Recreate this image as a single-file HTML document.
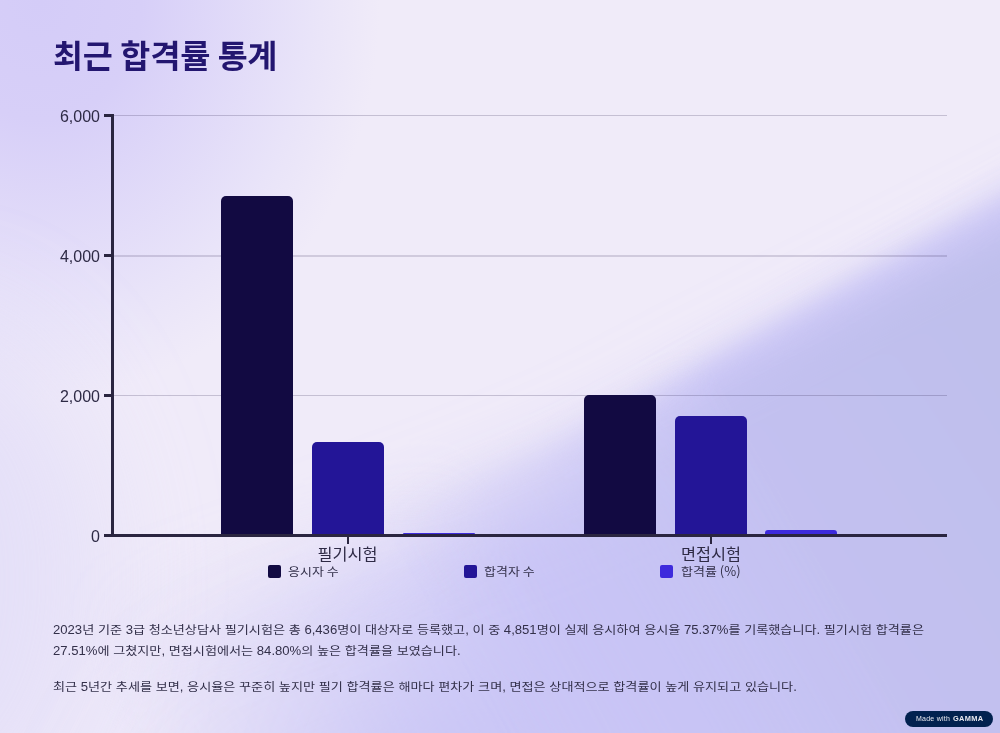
<!DOCTYPE html>
<html><head><meta charset="utf-8">
<style>
html,body{margin:0;padding:0;}
body{width:1000px;height:733px;overflow:hidden;position:relative;font-family:"Liberation Sans","Noto Sans CJK KR",sans-serif;
background:#e6e0f8;}
.bg{position:absolute;left:0;top:0;width:1000px;height:733px;}
.t{position:absolute;white-space:nowrap;}
.fx{position:absolute;left:0;top:0;width:1000px;height:733px;will-change:transform;}
h1{position:absolute;margin:0;left:53px;top:34px;font-size:32.6px;font-weight:680;color:#231670;font-family:"Noto Sans KR","Noto Sans CJK KR",sans-serif;line-height:1.2;}
.ylab{position:absolute;right:900px;font-size:16px;color:#2e2a45;line-height:16px;}
.bar{position:absolute;border-radius:5px 5px 0 0;}
.cat{position:absolute;transform:scaleY(0.95);font-size:16.3px;color:#2e2a45;font-family:"Noto Sans CJK KR",sans-serif;line-height:20px;}
.lg{position:absolute;font-size:13px;color:#33304a;font-family:"Noto Sans CJK KR",sans-serif;line-height:14px;}
.lb{position:absolute;width:13px;height:13px;border-radius:2px;}
.p{position:absolute;left:53px;font-size:13.125px;color:#33304a;line-height:21px;font-family:"Liberation Sans","Noto Sans CJK KR",sans-serif;white-space:nowrap;}
.k{display:inline-block;transform:translateY(0.5px) scaleY(0.86);}
.badge{position:absolute;left:905px;top:711px;width:88px;height:16px;border-radius:8px;background:#02214f;color:#e8e8f0;font-size:7px;line-height:16px;}
</style></head><body>
<svg class="bg" width="1000" height="733">
<defs>
<radialGradient id="g1" gradientUnits="userSpaceOnUse" cx="40" cy="0" r="400" gradientTransform="translate(40,0) scale(0.85,1) translate(-40,0)">
<stop offset="0" stop-color="#d4ccf8"/>
<stop offset="0.3" stop-color="#d7cff8"/>
<stop offset="0.8" stop-color="#e9e4f9"/>
<stop offset="1" stop-color="#f0ebf9"/>
</radialGradient>
<linearGradient id="mg" gradientUnits="userSpaceOnUse" x1="720" y1="380" x2="400" y2="560">
<stop offset="0" stop-color="#fff"/>
<stop offset="1" stop-color="#000"/>
</linearGradient>
<linearGradient id="bg2" gradientUnits="userSpaceOnUse" x1="1000" y1="380" x2="520" y2="700">
<stop offset="0" stop-color="#bfbfec"/>
<stop offset="1" stop-color="#c8c3f6"/>
</linearGradient>
<linearGradient id="mg2" gradientUnits="userSpaceOnUse" x1="500" y1="500" x2="100" y2="700">
<stop offset="0" stop-color="#fff"/>
<stop offset="1" stop-color="#000"/>
</linearGradient>
<mask id="m2" maskUnits="userSpaceOnUse" x="0" y="0" width="1000" height="733"><rect width="1000" height="733" fill="url(#mg2)"/></mask>
<filter id="bl5" x="-50%" y="-50%" width="200%" height="200%"><feGaussianBlur stdDeviation="45"/></filter>
<mask id="m1" maskUnits="userSpaceOnUse" x="0" y="0" width="1000" height="733"><rect width="1000" height="733" fill="url(#mg)"/></mask>
<filter id="bl1" x="-50%" y="-50%" width="200%" height="200%"><feGaussianBlur stdDeviation="22"/></filter>
<filter id="bl2" x="-50%" y="-50%" width="200%" height="200%"><feGaussianBlur stdDeviation="60"/></filter>
<filter id="bl4" x="-50%" y="-50%" width="200%" height="200%"><feGaussianBlur stdDeviation="16"/></filter>
<filter id="bl3" x="-50%" y="-50%" width="200%" height="200%"><feGaussianBlur stdDeviation="90"/></filter>
</defs>
<rect width="1000" height="733" fill="#f0ebf9"/>
<rect width="1000" height="733" fill="url(#g1)"/>
<ellipse cx="-80" cy="580" rx="180" ry="260" fill="#e0dbf8" opacity="0.7" filter="url(#bl2)"/>
<ellipse cx="600" cy="860" rx="420" ry="170" fill="#ccc8f6" opacity="0.8" filter="url(#bl3)"/>
<ellipse cx="780" cy="800" rx="420" ry="200" fill="#c6c3f4" opacity="0.85" filter="url(#bl2)"/>
<g mask="url(#m2)"><path d="M1120,200 L700,410 C620,455 540,490 400,540 L100,650 L100,850 L1120,850 Z" fill="#cac6f6" filter="url(#bl5)"/></g>
<g mask="url(#m1)"><path d="M1120,130 L700,368 C600,426 520,468 400,510 L150,600 L150,850 L1120,850 Z" fill="#cdc8f7" filter="url(#bl4)"/>
<path d="M1120,165 L700,390 C600,446 520,488 400,530 L150,620 L150,850 L1120,850 Z" fill="url(#bg2)" filter="url(#bl1)"/></g>
</svg>
<div class="fx">
<h1>최근 합격률 통계</h1>

<svg class="bg" width="1000" height="733">
<g stroke="rgba(40,30,70,0.21)" stroke-width="1">
<line x1="114" y1="115.5" x2="947" y2="115.5"/>
<line x1="114" y1="256" x2="947" y2="256" stroke-width="1.5"/>
<line x1="114" y1="395.5" x2="947" y2="395.5"/>
</g>
<g stroke="#2a2540" stroke-width="3">
<line x1="104" y1="115.5" x2="114" y2="115.5"/>
<line x1="104" y1="255.5" x2="114" y2="255.5"/>
<line x1="104" y1="395.5" x2="114" y2="395.5"/>
<line x1="104" y1="535.5" x2="947" y2="535.5"/>
<line x1="112.5" y1="114" x2="112.5" y2="537"/>
</g>
<g stroke="#2a2540" stroke-width="2">
<line x1="348" y1="537" x2="348" y2="544"/>
<line x1="711" y1="537" x2="711" y2="544"/>
</g>
</svg>
<div class="bar" style="left:221px;top:195.5px;width:72px;height:340px;background:#120a42"></div>
<div class="bar" style="left:312px;top:442px;width:72px;height:93.5px;background:#231597;"></div>
<div class="bar" style="left:403px;top:533px;width:72px;height:2.5px;background:#3d2adc;border-radius:1px 1px 0 0"></div>
<div class="bar" style="left:584px;top:395px;width:72px;height:140.5px;background:#120a42"></div>
<div class="bar" style="left:675px;top:416px;width:72px;height:119.5px;background:#231597"></div>
<div class="bar" style="left:765px;top:530px;width:72px;height:5.5px;background:#3d2adc;border-radius:3px 3px 0 0"></div>
<svg class="bg" width="1000" height="733"><line x1="104" y1="535.5" x2="947" y2="535.5" stroke="#2a2540" stroke-width="3"/></svg>

<div class="ylab" style="top:108.8px">6,000</div>
<div class="ylab" style="top:248.8px">4,000</div>
<div class="ylab" style="top:388.8px">2,000</div>
<div class="ylab" style="top:528.8px">0</div>

<div class="cat" style="left:317.6px;top:543px">필기시험</div>
<div class="cat" style="left:681px;top:543px">면접시험</div>

<div class="lb" style="left:268px;top:565px;background:#120a42"></div>
<div class="lg" style="left:288px;top:564px"><span class="k">응시자</span> <span class="k">수</span></div>
<div class="lb" style="left:464px;top:565px;background:#231597"></div>
<div class="lg" style="left:484px;top:564px"><span class="k">합격자</span> <span class="k">수</span></div>
<div class="lb" style="left:660px;top:565px;background:#3d2adc"></div>
<div class="lg" style="left:681px;top:564px"><span class="k">합격률</span> (%)</div>

<div class="p" style="top:619px">2023<span class="k">년</span> <span class="k">기준</span> 3<span class="k">급</span> <span class="k">청소년상담사</span> <span class="k">필기시험은</span> <span class="k">총</span> 6,436<span class="k">명이</span> <span class="k">대상자로</span> <span class="k">등록했고</span>, <span class="k">이</span> <span class="k">중</span> 4,851<span class="k">명이</span> <span class="k">실제</span> <span class="k">응시하여</span> <span class="k">응시율</span> 75.37%<span class="k">를</span> <span class="k">기록했습니다</span>. <span class="k">필기시험</span> <span class="k">합격률은</span></div>
<div class="p" style="top:640px">27.51%<span class="k">에</span> <span class="k">그쳤지만</span>, <span class="k">면접시험에서는</span> 84.80%<span class="k">의</span> <span class="k">높은</span> <span class="k">합격률을</span> <span class="k">보였습니다</span>.</div>
<div class="p" style="top:676px"><span class="k">최근</span> 5<span class="k">년간</span> <span class="k">추세를</span> <span class="k">보면</span>, <span class="k">응시율은</span> <span class="k">꾸준히</span> <span class="k">높지만</span> <span class="k">필기</span> <span class="k">합격률은</span> <span class="k">해마다</span> <span class="k">편차가</span> <span class="k">크며</span>, <span class="k">면접은</span> <span class="k">상대적으로</span> <span class="k">합격률이</span> <span class="k">높게</span> <span class="k">유지되고</span> <span class="k">있습니다</span>.</div>

<div class="badge"><span style="position:absolute;left:11px;top:0;letter-spacing:0.25px">Made with</span><b style="position:absolute;left:48px;top:0;letter-spacing:0.35px;font-size:7.4px">GAMMA</b></div>
</div>
</body></html>
